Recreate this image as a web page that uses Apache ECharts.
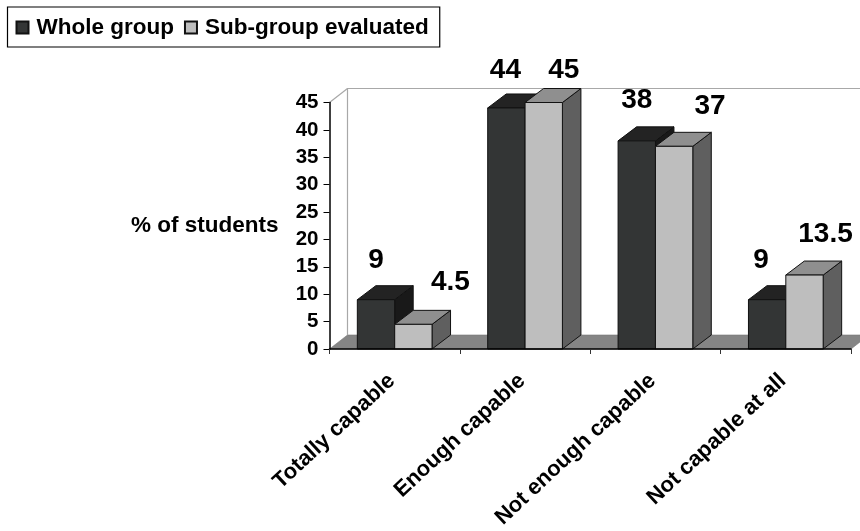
<!DOCTYPE html>
<html>
<head>
<meta charset="utf-8">
<style>html,body{margin:0;padding:0;background:#fff}#chart{width:860px;height:531px}</style>
<script src="https://cdn.jsdelivr.net/npm/echarts@6/dist/echarts.min.js"></script>
</head>
<body>
<div id="chart"></div>
<script>
const categories = ['Totally capable', 'Enough capable', 'Not enough capable', 'Not capable at all'];
const wholeGroup = [9, 44, 38, 9];
const subGroup = [4.5, 45, 37, 13.5];
const valueTicks = [0, 45, 5];

// Hand-placed value label offsets from the centre of each bar's top edge.
const wholeLabelShift = [[0, -39], [-1, -38], [0, -41], [-6, -39]];
const subLabelShift = [[37, -42], [20, -32], [36, -40], [21, -41]];

const FONT = '"Liberation Sans", Arial, sans-serif';
const DEPTH_X = 18.5, DEPTH_Y = 14;
const WALL = { left: 329.5, top: 102.5, width: 521.5, height: 246.5 };

const shades = {
  whole: { front: '#333535', top: '#232323', side: '#191919' },
  sub: { front: '#bebebe', top: '#8f8f8f', side: '#5f5f5f' }
};

// One extruded bar: front, top and side faces, plus its value text.
function barRenderer(shade, seriesIndex, shifts) {
  return function (params, api) {
    const cat = api.value(0);
    const val = api.value(1);
    const base = api.coord([cat, 0]);
    const head = api.coord([cat, val]);
    const band = api.size([1, 0])[0];
    const w = band * 0.2865;
    const x0 = base[0] - w + seriesIndex * w;
    const x1 = x0 + w;
    const yTop = head[1], yBase = base[1];
    const stroke = { stroke: '#111', lineWidth: 1 };
    const face = (pts, fill) => ({
      type: 'polygon', shape: { points: pts }, style: Object.assign({ fill }, stroke)
    });
    const shift = shifts[cat];
    return {
      type: 'group',
      children: [
        face([[x1, yBase], [x1 + DEPTH_X, yBase - DEPTH_Y], [x1 + DEPTH_X, yTop - DEPTH_Y], [x1, yTop]], shade.side),
        face([[x0, yTop], [x0 + DEPTH_X, yTop - DEPTH_Y], [x1 + DEPTH_X, yTop - DEPTH_Y], [x1, yTop]], shade.top),
        face([[x0, yBase], [x1, yBase], [x1, yTop], [x0, yTop]], shade.front),
        {
          type: 'text',
          z2: 50,
          style: {
            x: (x0 + x1) / 2 + shift[0],
            y: yTop + shift[1],
            text: String(val),
            fill: '#000',
            font: 'bold 28px ' + FONT,
            align: 'center',
            verticalAlign: 'middle'
          }
        }
      ]
    };
  };
}

// Floor and back walls sit behind the bars.
function wallRenderer(params, api) {
  const first = api.coord([0, 0]);
  const last = api.coord([categories.length - 1, 45]);
  const halfBand = api.size([1, 0])[0] / 2;
  const xL = first[0] - halfBand, xR = last[0] + halfBand;
  const y0 = first[1], y45 = last[1];
  const line = { stroke: '#a8a8a8', lineWidth: 1.2, fill: null };
  return {
    type: 'group',
    children: [
      {
        type: 'polygon',
        shape: { points: [[xL, y0], [xL + 18, y0 - 14], [xR + 18, y0 - 14], [xR, y0]] },
        style: { fill: '#858585', stroke: '#777', lineWidth: 0.6 }
      },
      {
        type: 'polyline',
        shape: { points: [[xL + 18, y0 - 14], [xL + 18, y45 - 14], [xR + 18, y45 - 14]] },
        style: line
      },
      { type: 'line', shape: { x1: xL, y1: y45, x2: xL + 18, y2: y45 - 14 }, style: line }
    ]
  };
}

const chart = echarts.init(document.getElementById('chart'));
chart.setOption({
  animation: false,
  backgroundColor: '#fff',
  legend: {
    left: 7.5,
    top: 7,
    padding: [9, 11, 8, 8],
    borderColor: '#000',
    borderWidth: 1.2,
    itemWidth: 12,
    itemHeight: 12,
    itemGap: 10,
    icon: 'rect',
    data: ['Whole group', 'Sub-group evaluated'],
    textStyle: { fontFamily: FONT, fontWeight: 'bold', fontSize: 22.5, color: '#000', padding: [0, 0, 0, 3] }
  },
  grid: { left: WALL.left, top: WALL.top, width: WALL.width, height: WALL.height, outerBoundsMode: 'none' },
  xAxis: {
    type: 'category',
    data: categories,
    z: 5,
    axisLine: { lineStyle: { color: '#000', width: 1.5 } },
    axisTick: { show: true, length: 5, lineStyle: { color: '#333', width: 1 } },
    axisLabel: { rotate: 43, margin: 26, padding: [0, 4, 0, 0], interval: 0, color: '#000', fontFamily: FONT, fontWeight: 'bold', fontSize: 22 }
  },
  yAxis: {
    type: 'value',
    min: valueTicks[0],
    max: valueTicks[1],
    interval: valueTicks[2],
    name: '% of students',
    nameLocation: 'middle',
    nameRotate: 0,
    nameGap: 51,
    nameTextStyle: { color: '#000', fontFamily: FONT, fontWeight: 'bold', fontSize: 22.5, align: 'right', verticalAlign: 'middle' },
    splitLine: { show: false },
    z: 5,
    axisLine: { show: true, lineStyle: { color: '#000', width: 1.5 } },
    axisTick: { show: true, length: 6, lineStyle: { color: '#000', width: 1 } },
    axisLabel: { margin: 11, color: '#000', fontFamily: FONT, fontWeight: 'bold', fontSize: 20.5 }
  },
  series: [
    {
      name: 'walls', type: 'custom', z: 1, silent: true,
      data: [[0, 0]], renderItem: wallRenderer, clip: false
    },
    {
      name: 'Whole group', type: 'custom', z: 3,
      itemStyle: { color: shades.whole.front, borderColor: '#111', borderWidth: 1 },
      data: wholeGroup.map((v, i) => [i, v]),
      encode: { x: 0, y: 1 },
      renderItem: barRenderer(shades.whole, 0, wholeLabelShift), clip: false
    },
    {
      name: 'Sub-group evaluated', type: 'custom', z: 4,
      itemStyle: { color: shades.sub.front, borderColor: '#111', borderWidth: 1 },
      data: subGroup.map((v, i) => [i, v]),
      encode: { x: 0, y: 1 },
      renderItem: barRenderer(shades.sub, 1, subLabelShift), clip: false
    }
  ]
});
</script>
</body>
</html>
